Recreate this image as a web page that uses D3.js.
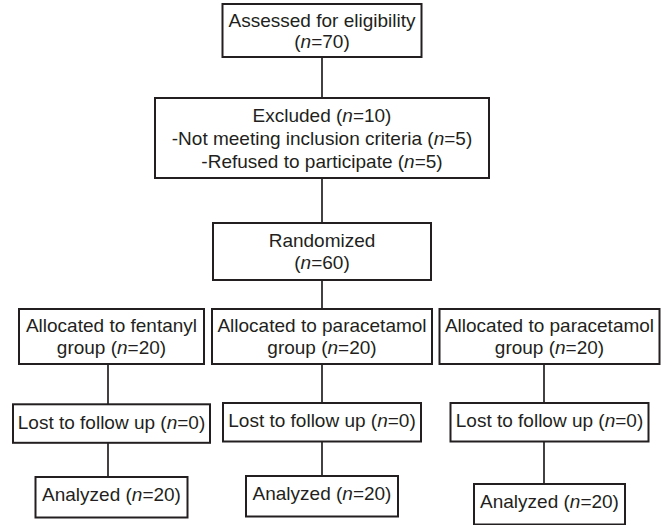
<!DOCTYPE html>
<html>
<head>
<meta charset="utf-8">
<script src="https://cdn.jsdelivr.net/npm/d3@7.9.0/dist/d3.min.js"></script>
<style>
  html, body { margin: 0; padding: 0; background: #fff; }
  svg { display: block; }
  text { font-family: "Liberation Sans", Arial, sans-serif; font-size: 19px; fill: #231f20; }
</style>
</head>
<body>
<svg width="662" height="525"></svg>
<script>
// values
const assessedN = 70;
const excludedN = 10;
const exclusionReasons = ['Not meeting inclusion criteria', 'Refused to participate'];
const exclusionN = [5, 5];
const randomizedN = 60;
const groups = ['fentanyl', 'paracetamol', 'paracetamol'];
const allocatedN = [20, 20, 20];
const lostN = [0, 0, 0];
const analyzedN = [20, 20, 20];

const svg = d3.select('svg');
const ink = '#231f20';

// column centres and connector positions
const cols = ['left', 'mid', 'right'];
const boxX = d3.scaleOrdinal().domain(cols).range([111.5, 322, 549.5]);
const lineX = d3.scaleOrdinal().domain(cols).range([108, 322, 544]);

// stage rows: top edge and height of each box row
const stages = ['assessed', 'excluded', 'randomized', 'allocated', 'lost', 'analyzed'];
const rowTop = d3.scaleOrdinal().domain(stages).range([4, 98, 223, 309, 403, 477]);
const rowH = d3.scaleOrdinal().domain(stages).range([53, 80, 57, 55, 38.5, 40.5]);

// small per-box nudges seen in the picture
const nudgeY = { 'lost-left': 1.3, 'analyzed-right': 7, 'analyzed-mid': -1 };
const widths = {
  assessed: 199, excluded: 334, randomized: 218,
  allocated: [185, 220, 220], lost: [197, 198, 198], analyzed: [152, 152, 151]
};

const nodes = [
  { id: 'assessed', stage: 'assessed', col: 'mid', w: widths.assessed,
    lines: ['Assessed for eligibility', `(n=${assessedN})`], lh: 21 },
  { id: 'excluded', stage: 'excluded', col: 'mid', w: widths.excluded,
    lines: [`Excluded (n=${excludedN})`].concat(exclusionReasons.map((r, i) => `-${r} (n=${exclusionN[i]})`)), lh: 23 },
  { id: 'randomized', stage: 'randomized', col: 'mid', w: widths.randomized,
    lines: ['Randomized', `(n=${randomizedN})`], lh: 22 }
];
groups.forEach((g, i) => {
  const c = cols[i];
  nodes.push({ id: 'allocated-' + c, stage: 'allocated', col: c, w: widths.allocated[i],
    lines: [`Allocated to ${g}`, `group (n=${allocatedN[i]})`], lh: 22 });
  nodes.push({ id: 'lost-' + c, stage: 'lost', col: c, w: widths.lost[i],
    lines: [`Lost to follow up (n=${lostN[i]})`], lh: 22, shift: -1.5 });
  nodes.push({ id: 'analyzed-' + c, stage: 'analyzed', col: c, w: widths.analyzed[i],
    lines: [`Analyzed (n=${analyzedN[i]})`], lh: 22, shift: -2.5 });
});

nodes.forEach(d => {
  d.x0 = boxX(d.col) - d.w / 2;
  d.y0 = rowTop(d.stage) + (nudgeY[d.id] || 0);
  d.h = rowH(d.stage);
});
const byId = Object.fromEntries(nodes.map(d => [d.id, d]));

// connectors (drawn first so boxes sit on top)
const links = [
  ['assessed', 'excluded', 'mid'],
  ['excluded', 'randomized', 'mid'],
  ['randomized', 'allocated-mid', 'mid']
];
cols.forEach(c => {
  links.push(['allocated-' + c, 'lost-' + c, c]);
  links.push(['lost-' + c, 'analyzed-' + c, c]);
});

svg.append('g').selectAll('line')
  .data(links)
  .join('line')
  .attr('x1', d => lineX(d[2]))
  .attr('x2', d => lineX(d[2]))
  .attr('y1', d => byId[d[0]].y0 + byId[d[0]].h)
  .attr('y2', d => byId[d[1]].y0)
  .attr('stroke', ink)
  .attr('stroke-width', 1.7);

const box = svg.append('g').selectAll('g')
  .data(nodes)
  .join('g');

box.append('rect')
  .attr('x', d => d.x0)
  .attr('y', d => d.y0)
  .attr('width', d => d.w)
  .attr('height', d => d.h)
  .attr('fill', '#fff')
  .attr('stroke', ink)
  .attr('stroke-width', 2);

// each line as text, with the "n" of n= in italics
box.each(function (d) {
  const g = d3.select(this);
  const mid = d.y0 + d.h / 2 + (d.shift || 0);
  d.lines.forEach((line, i) => {
    const t = g.append('text')
      .attr('x', d.x0 + d.w / 2)
      .attr('y', mid + (i - (d.lines.length - 1) / 2) * d.lh)
      .attr('dy', '0.35em')
      .attr('text-anchor', 'middle');
    line.split(/(n)(?==)/).forEach(part => {
      if (!part) return;
      t.append('tspan')
        .attr('font-style', part === 'n' ? 'italic' : null)
        .text(part);
    });
  });
});
</script>
</body>
</html>
